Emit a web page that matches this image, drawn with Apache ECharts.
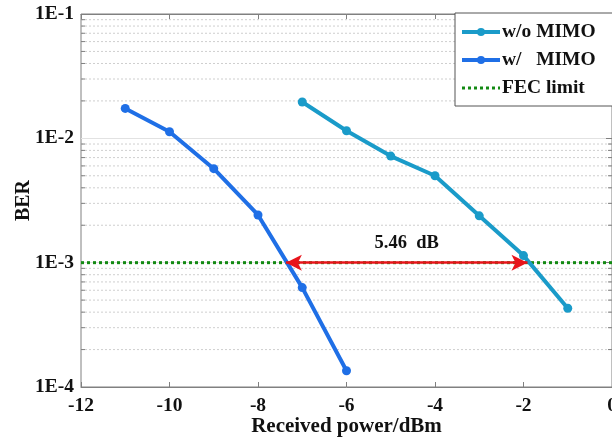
<!DOCTYPE html>
<html>
<head>
<meta charset="utf-8">
<script src="https://cdn.jsdelivr.net/npm/echarts@6/dist/echarts.min.js"></script>
<style>html,body{margin:0;padding:0;background:#fff;overflow:hidden;width:612px;height:438px}#c{width:612px;height:438px}</style>
</head>
<body>
<div id="c"></div>
<script>
// ---- data ----
var xWithout = [-7, -6, -5, -4, -3, -2, -1];
var berWithout = [0.0196, 0.0115, 0.0072, 0.0050, 0.00238, 0.00114, 0.00043];
var xWith = [-11, -10, -9, -8, -7, -6];
var berWith = [0.0174, 0.0113, 0.0057, 0.00242, 0.00063, 0.000135];
var fecLimit = 1e-3;
var xRange = [-12, 0];
var gapStart = -7.37, gapEnd = -1.91;
var gapLabel = '5.46  dB';
var seriesNames = ['w/o MIMO', 'w/   MIMO', 'FEC limit'];
var xTitle = 'Received power/dBm';
var yTitle = 'BER';
var minorBer = [];
[1e-4, 1e-3, 1e-2].forEach(function (d) { for (var m = 2; m <= 9; m++) minorBer.push(+(m * d).toPrecision(3)); });

function pairs(xs, ys) { return xs.map(function (x, i) { return [x, ys[i]]; }); }

var FONT = 'Liberation Serif';
var chart = echarts.init(document.getElementById('c'), null, { renderer: 'canvas', width: 612, height: 438 });
var axisColor = '#808080';

chart.setOption({
  animation: false,
  backgroundColor: '#fff',
  grid: { left: 81, right: 0, top: 14, bottom: 51, show: true, borderColor: axisColor, borderWidth: 1,
          containLabel: false, outerBoundsMode: 'none' },
  legend: {
    orient: 'vertical', left: 455, top: 13,
    data: [
      { name: seriesNames[0], lineStyle: { width: 4 } },
      { name: seriesNames[1], lineStyle: { width: 4 } },
      { name: seriesNames[2], itemStyle: { opacity: 0 }, lineStyle: { width: 3 } }
    ],
    backgroundColor: '#fff', borderColor: '#555', borderWidth: 1,
    padding: [9, 40, 8, 5], itemGap: 8, itemWidth: 38, itemHeight: 10,
    textStyle: { fontFamily: FONT, fontWeight: 'bold', fontSize: 19.5, color: '#111', padding: [0, 0, 0, -3] }
  },
  xAxis: [{
    type: 'value', min: xRange[0], max: xRange[1], interval: 2,
    name: xTitle, nameLocation: 'middle', nameGap: 29, nameMoveOverlap: false,
    nameTextStyle: { fontFamily: FONT, fontWeight: 'bold', fontSize: 21, color: '#111' },
    axisLine: { show: true, lineStyle: { color: axisColor } },
    axisTick: { inside: true, length: 5, lineStyle: { color: axisColor } },
    axisLabel: { fontFamily: FONT, fontWeight: 'bold', fontSize: 19.5, color: '#111', margin: 9 },
    splitLine: { show: false }
  }, {
    type: 'value', position: 'top', min: xRange[0], max: xRange[1], interval: 2,
    axisLine: { show: true, lineStyle: { color: axisColor } },
    axisTick: { inside: true, length: 5, lineStyle: { color: axisColor } },
    axisLabel: { show: false }, splitLine: { show: false }
  }],
  yAxis: [{
    type: 'log', logBase: 10, min: 1e-4, max: 1e-1,
    name: yTitle, nameLocation: 'middle', nameGap: 47, nameMoveOverlap: false,
    nameTextStyle: { fontFamily: FONT, fontWeight: 'bold', fontSize: 20, color: '#111' },
    axisLine: { show: true, lineStyle: { color: axisColor } },
    axisTick: { inside: true, length: 6, lineStyle: { color: axisColor } },
    axisLabel: {
      fontFamily: FONT, fontWeight: 'bold', fontSize: 19.5, color: '#111', margin: 7,
      formatter: function (v) { return '1E' + Math.round(Math.log10(v)); }
    },
    splitLine: { show: true, lineStyle: { color: '#e2e2e2', width: 1 } }
  }, {
    type: 'log', logBase: 10, min: 1e-4, max: 1e-1, position: 'right',
    axisLine: { show: true, lineStyle: { color: axisColor } },
    axisTick: { inside: true, length: 6, lineStyle: { color: axisColor } },
    axisLabel: { show: false }, splitLine: { show: false }
  }],
  series: [
    {
      name: 'minor', type: 'custom', silent: true, z: 1,
      data: minorBer.map(function (v) { return [xRange[0], v]; }),
      renderItem: function (params, api) {
        var p0 = api.coord([xRange[0], api.value(1)]);
        var p1 = api.coord([xRange[1], api.value(1)]);
        return {
          type: 'group', children: [
            { type: 'line', shape: { x1: p0[0], y1: p0[1], x2: p1[0], y2: p1[1] },
              style: { stroke: '#cfcfcf', lineWidth: 1, lineDash: [2, 2] } },
            { type: 'line', shape: { x1: p0[0], y1: p0[1], x2: p0[0] + 4, y2: p0[1] },
              style: { stroke: axisColor, lineWidth: 1 } },
            { type: 'line', shape: { x1: p1[0] - 4, y1: p1[1], x2: p1[0], y2: p1[1] },
              style: { stroke: axisColor, lineWidth: 1 } }
          ]
        };
      }
    },
    {
      name: seriesNames[2], type: 'line', z: 3,
      data: pairs(xRange, [fecLimit, fecLimit]),
      symbol: 'none', color: '#138a13',
      lineStyle: { color: '#138a13', width: 3, type: [3, 3] },
      markLine: {
        silent: true, symbol: ['arrow', 'arrow'], symbolSize: [12, 16], precision: 4,
        lineStyle: { color: '#e8141b', width: 2.5, type: 'solid' },
        label: { show: true, position: 'middle', formatter: gapLabel, distance: 10,
          fontFamily: FONT, fontWeight: 'bold', fontSize: 18.5, color: '#111' },
        data: [[{ coord: [gapStart, fecLimit] }, { coord: [gapEnd, fecLimit] }]]
      }
    },
    {
      name: seriesNames[0], type: 'line', z: 4,
      data: pairs(xWithout, berWithout),
      color: '#1a9bc9', symbol: 'circle', symbolSize: 9,
      lineStyle: { width: 4 }
    },
    {
      name: seriesNames[1], type: 'line', z: 4,
      data: pairs(xWith, berWith),
      color: '#1f6fe6', symbol: 'circle', symbolSize: 9,
      lineStyle: { width: 4 }
    }
  ]
});
</script>
</body>
</html>
